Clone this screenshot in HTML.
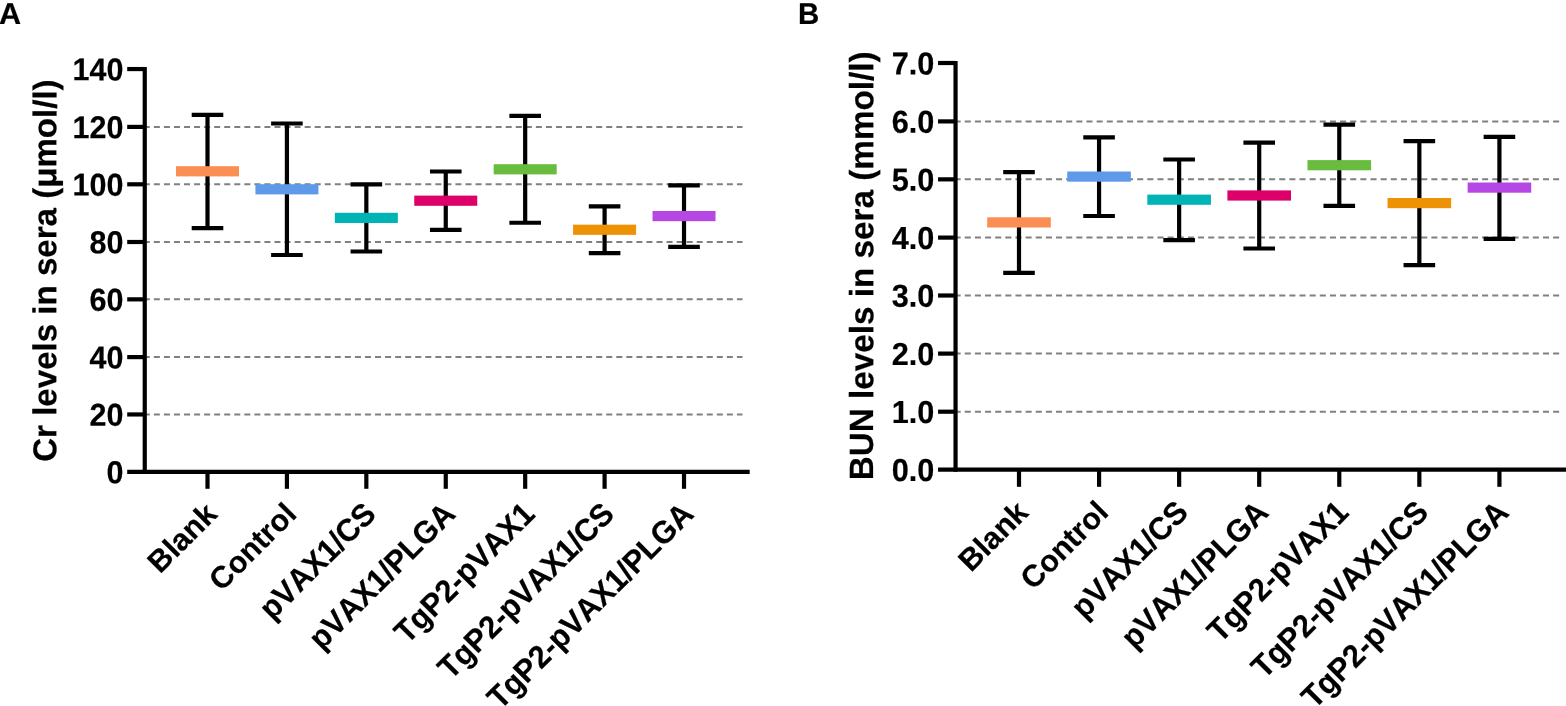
<!DOCTYPE html>
<html lang="en">
<head>
<meta charset="utf-8">
<title>Cr and BUN levels in sera</title>
<style>
html,body{margin:0;padding:0;background:#fff;}
body{width:1566px;height:706px;overflow:hidden;}
svg{display:block;}
svg text{font-family:"Liberation Sans", sans-serif;font-weight:700;fill:#000;stroke:#000;stroke-width:0.2px;stroke-linejoin:miter;text-rendering:geometricPrecision;font-kerning:none;}
</style>
</head>
<body>
<svg width="1566" height="706" viewBox="0 0 1566 706" role="img" aria-label="Cr and BUN levels in sera">
<rect width="1566" height="706" fill="#fff"/>
<g stroke="#808080" stroke-width="2" stroke-dasharray="6 4.053" fill="none">
<line x1="143.8" y1="414.45" x2="742.5" y2="414.45"/>
<line x1="143.8" y1="357.1" x2="742.5" y2="357.1"/>
<line x1="143.8" y1="299.35" x2="742.5" y2="299.35"/>
<line x1="143.8" y1="242" x2="742.5" y2="242"/>
<line x1="143.8" y1="184.3" x2="742.5" y2="184.3"/>
<line x1="143.8" y1="126.9" x2="742.5" y2="126.9"/>
</g>
<g stroke="#000" stroke-width="4.2" fill="none">
<path d="M191.7 114.9H223.3M207.5 114.9V228.1M191.7 228.1H223.3"/>
<path d="M271.12 123.5H302.72M286.92 123.5V255M271.12 255H302.72"/>
<path d="M350.54 184.4H382.14M366.34 184.4V251.5M350.54 251.5H382.14"/>
<path d="M429.96 171.5H461.56M445.76 171.5V229.9M429.96 229.9H461.56"/>
<path d="M509.38 115.9H540.98M525.18 115.9V222.75M509.38 222.75H540.98"/>
<path d="M588.8 206.4H620.4M604.6 206.4V253.1M588.8 253.1H620.4"/>
<path d="M668.22 185.4H699.82M684.02 185.4V246.9M668.22 246.9H699.82"/>
</g>
<rect x="176" y="166.2" width="63" height="10.2" fill="#FB8F53"/>
<rect x="255.42" y="184.2" width="63" height="10.2" fill="#5F9AE8"/>
<rect x="334.84" y="212.8" width="63" height="10.2" fill="#00B4B6"/>
<rect x="414.26" y="195.6" width="63" height="10.2" fill="#DD006A"/>
<rect x="493.68" y="164.2" width="63" height="10.2" fill="#68BC3E"/>
<rect x="573.1" y="224.65" width="63" height="10.2" fill="#EE9205"/>
<rect x="652.52" y="211" width="63" height="10.2" fill="#B547E4"/>
<g stroke="#000" stroke-width="4.2" fill="none">
<path d="M144.75 66.95V473.9"/>
<path d="M127.2 471.8H749.7"/>
<path d="M127.2 414.45H144.75"/>
<path d="M127.2 357.1H144.75"/>
<path d="M127.2 299.35H144.75"/>
<path d="M127.2 242H144.75"/>
<path d="M127.2 184.3H144.75"/>
<path d="M127.2 126.9H144.75"/>
<path d="M127.2 69.05H144.75"/>
<path d="M207.5 471.8V488.8"/>
<path d="M286.92 471.8V488.8"/>
<path d="M366.34 471.8V488.8"/>
<path d="M445.76 471.8V488.8"/>
<path d="M525.18 471.8V488.8"/>
<path d="M604.6 471.8V488.8"/>
<path d="M684.02 471.8V488.8"/>
</g>
<g font-size="30.5" text-anchor="end">
<text transform="translate(123.5 483.15) rotate(0.03) scale(1 1.04)">0</text>
<text transform="translate(123.5 425.8) rotate(0.03) scale(1 1.04)">20</text>
<text transform="translate(123.5 368.45) rotate(0.03) scale(1 1.04)">40</text>
<text transform="translate(123.5 310.7) rotate(0.03) scale(1 1.04)">60</text>
<text transform="translate(123.5 253.35) rotate(0.03) scale(1 1.04)">80</text>
<text transform="translate(123.5 195.65) rotate(0.03) scale(1 1.04)">100</text>
<text transform="translate(123.5 138.25) rotate(0.03) scale(1 1.04)">120</text>
<text transform="translate(123.5 80.4) rotate(0.03) scale(1 1.04)">140</text>
</g>
<g font-size="30.45" text-anchor="end">
<text transform="translate(218.7 515.8) rotate(-45) scale(1 1)">Blank</text>
<text transform="translate(298.12 515.8) rotate(-45) scale(1 1)">Control</text>
<text transform="translate(377.54 515.8) rotate(-45) scale(1 1.04)">pVAX1/CS</text>
<text transform="translate(456.96 515.8) rotate(-45) scale(1 1.04)">pVAX1/PLGA</text>
<text transform="translate(536.38 515.8) rotate(-45) scale(1 1.04)">TgP2-pVAX1</text>
<text transform="translate(615.8 515.8) rotate(-45) scale(1 1.04)">TgP2-pVAX1/CS</text>
<text transform="translate(695.22 515.8) rotate(-45) scale(1 1.04)">TgP2-pVAX1/PLGA</text>
</g>
<text font-size="33.1" text-anchor="middle" transform="translate(56.3 270.6) rotate(-89.97) scale(1 1)">Cr levels in sera (μmol/l)</text>
<text font-size="30" transform="translate(-0.95 23.9) rotate(0.03) scale(1.02 1)">A</text>
<g stroke="#808080" stroke-width="2" stroke-dasharray="6.05 4.094" fill="none">
<line x1="954.6" y1="411.7" x2="1559.3" y2="411.7"/>
<line x1="954.6" y1="353.6" x2="1559.3" y2="353.6"/>
<line x1="954.6" y1="295.5" x2="1559.3" y2="295.5"/>
<line x1="954.6" y1="237.6" x2="1559.3" y2="237.6"/>
<line x1="954.6" y1="179.35" x2="1559.3" y2="179.35"/>
<line x1="954.6" y1="121.4" x2="1559.3" y2="121.4"/>
</g>
<g stroke="#000" stroke-width="4.2" fill="none">
<path d="M1003.2 172.1H1034.8M1019 172.1V272.8M1003.2 272.8H1034.8"/>
<path d="M1083.27 137.4H1114.87M1099.07 137.4V216M1083.27 216H1114.87"/>
<path d="M1163.34 159.5H1194.94M1179.14 159.5V240.05M1163.34 240.05H1194.94"/>
<path d="M1243.41 142.7H1275.01M1259.21 142.7V248.5M1243.41 248.5H1275.01"/>
<path d="M1323.48 124.7H1355.08M1339.28 124.7V205.8M1323.48 205.8H1355.08"/>
<path d="M1403.55 141.1H1435.15M1419.35 141.1V265.1M1403.55 265.1H1435.15"/>
<path d="M1483.62 136.8H1515.22M1499.42 136.8V238.9M1483.62 238.9H1515.22"/>
</g>
<rect x="987.2" y="217.3" width="63.6" height="10.2" fill="#FB8F53"/>
<rect x="1067.27" y="171.5" width="63.6" height="10.2" fill="#5F9AE8"/>
<rect x="1147.34" y="194.6" width="63.6" height="10.2" fill="#00B4B6"/>
<rect x="1227.41" y="190.4" width="63.6" height="10.2" fill="#DD006A"/>
<rect x="1307.48" y="160.1" width="63.6" height="10.2" fill="#68BC3E"/>
<rect x="1387.55" y="198" width="63.6" height="10.2" fill="#EE9205"/>
<rect x="1467.62" y="182.5" width="63.6" height="10.2" fill="#B547E4"/>
<g stroke="#000" stroke-width="4.2" fill="none">
<path d="M955.55 60.9V471.75"/>
<path d="M938.05 469.65H1566"/>
<path d="M938.05 411.7H955.55"/>
<path d="M938.05 353.6H955.55"/>
<path d="M938.05 295.5H955.55"/>
<path d="M938.05 237.6H955.55"/>
<path d="M938.05 179.35H955.55"/>
<path d="M938.05 121.4H955.55"/>
<path d="M938.05 63H955.55"/>
<path d="M1019 469.65V486.8"/>
<path d="M1099.07 469.65V486.8"/>
<path d="M1179.14 469.65V486.8"/>
<path d="M1259.21 469.65V486.8"/>
<path d="M1339.28 469.65V486.8"/>
<path d="M1419.35 469.65V486.8"/>
<path d="M1499.42 469.65V486.8"/>
</g>
<g font-size="30.65" text-anchor="end">
<text transform="translate(934.35 481) rotate(0.03) scale(1 1.04)">0.0</text>
<text transform="translate(934.35 423.05) rotate(0.03) scale(1 1.04)">1.0</text>
<text transform="translate(934.35 364.95) rotate(0.03) scale(1 1.04)">2.0</text>
<text transform="translate(934.35 306.85) rotate(0.03) scale(1 1.04)">3.0</text>
<text transform="translate(934.35 248.95) rotate(0.03) scale(1 1.04)">4.0</text>
<text transform="translate(934.35 190.7) rotate(0.03) scale(1 1.04)">5.0</text>
<text transform="translate(934.35 132.75) rotate(0.03) scale(1 1.04)">6.0</text>
<text transform="translate(934.35 74.6) rotate(0.03) scale(1 1.04)">7.0</text>
</g>
<g font-size="30.6" text-anchor="end">
<text transform="translate(1029.9 514.1) rotate(-45) scale(1 1)">Blank</text>
<text transform="translate(1109.97 514.1) rotate(-45) scale(1 1)">Control</text>
<text transform="translate(1190.04 514.1) rotate(-45) scale(1 1.04)">pVAX1/CS</text>
<text transform="translate(1270.11 514.1) rotate(-45) scale(1 1.04)">pVAX1/PLGA</text>
<text transform="translate(1350.18 514.1) rotate(-45) scale(1 1.04)">TgP2-pVAX1</text>
<text transform="translate(1430.25 514.1) rotate(-45) scale(1 1.04)">TgP2-pVAX1/CS</text>
<text transform="translate(1510.32 514.1) rotate(-45) scale(1 1.04)">TgP2-pVAX1/PLGA</text>
</g>
<text font-size="33.27" text-anchor="middle" transform="translate(873.2 265.8) rotate(-89.97) scale(1 1.01)">BUN levels in sera (mmol/l)</text>
<text font-size="30" transform="translate(797.95 23.9) rotate(0.03) scale(0.98 1)">B</text>
</svg>
</body>
</html>
